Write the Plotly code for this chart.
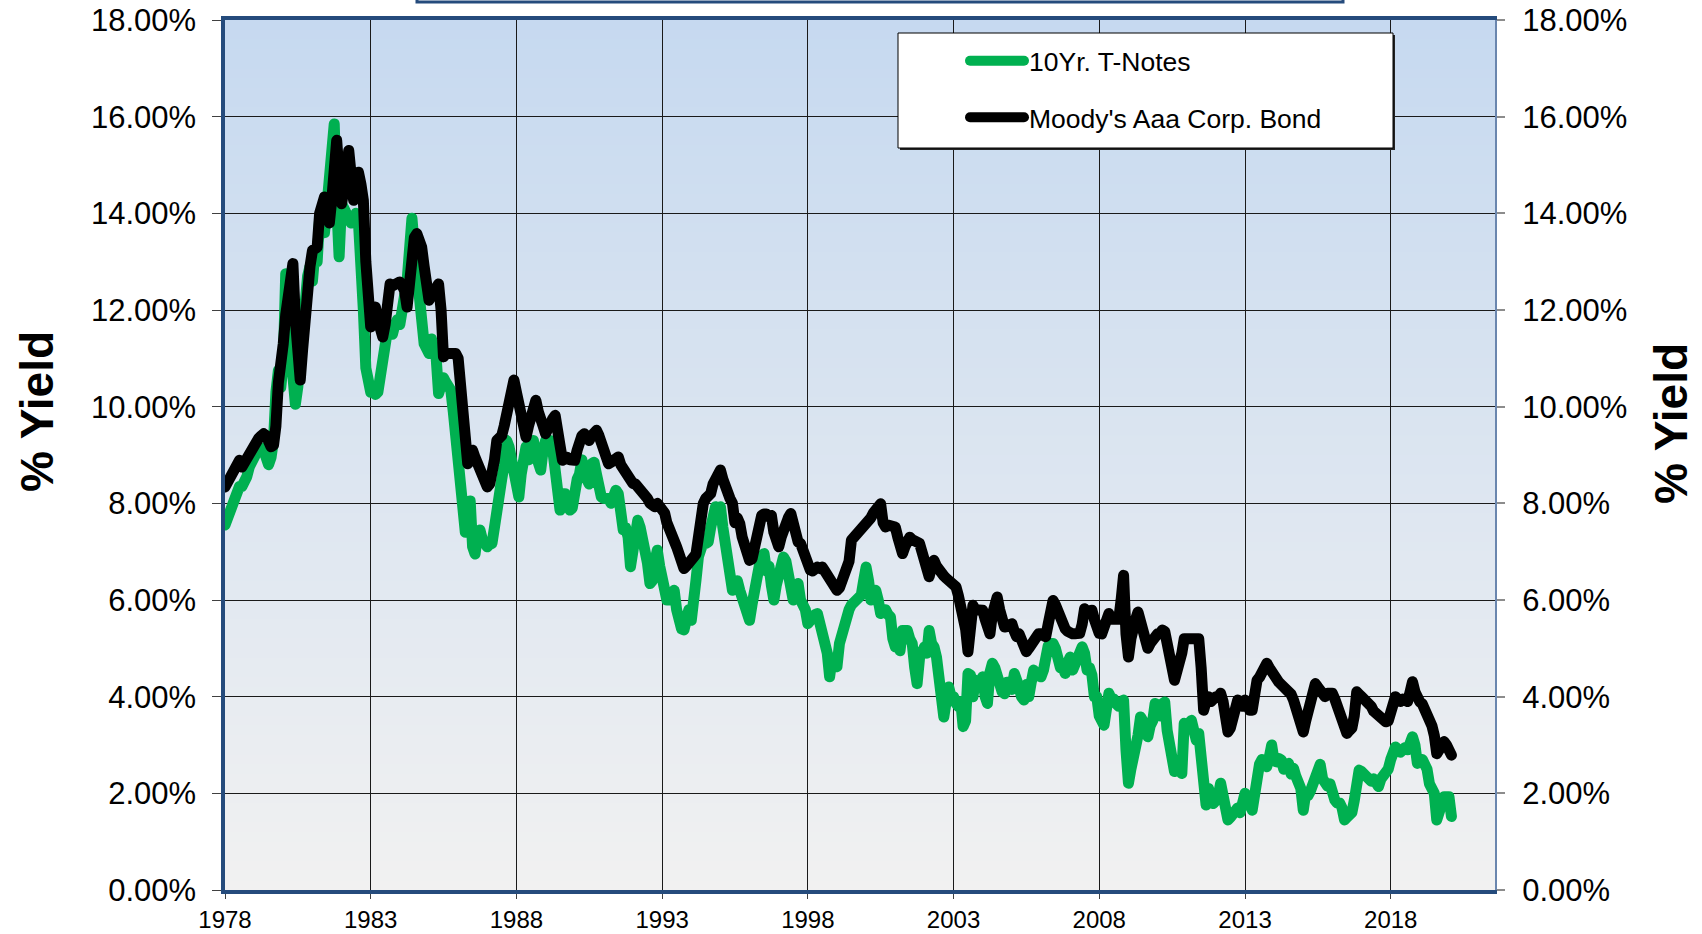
import pandas as pd
import plotly.graph_objects as go

# ---------------- data (monthly, Jan 1978 - Feb 2020), % yield ----------------
start_month = "1978-01-01"
series_names = ["10Yr. T-Notes", "Moody's Aaa Corp. Bond"]
y_tick_values = [0, 2, 4, 6, 8, 10, 12, 14, 16, 18]

t_notes_10yr = [
    7.55, 7.7, 7.85, 7.95, 8.1, 8.2, 8.35, 8.35, 8.42, 8.55, 8.75, 8.9,          # 1978
    9.0, 9.05, 9.1, 9.15, 9.1, 8.85, 8.8, 8.95, 9.3, 10.3, 10.75, 10.4,          # 1979
    10.9, 12.75, 12.6, 11.2, 10.2, 10.05, 10.4, 11.1, 11.6, 12.2, 12.7, 12.9,    # 1980
    12.6, 13.2, 13.0, 13.9, 13.9, 13.6, 14.3, 15.0, 15.3, 15.85, 14.2, 13.1,     # 1981
    14.2, 14.1, 14.0, 13.9, 13.8, 13.9, 14.0, 13.8, 13.2, 12.0, 10.8, 10.5,      # 1982
    10.3, 10.3, 10.25, 10.3, 10.6, 10.9, 11.3, 11.6, 11.5, 11.5, 11.7, 11.8,     # 1983
    11.7, 11.9, 12.3, 12.6, 13.4, 13.9, 13.3, 12.6, 12.06, 11.5, 11.3, 11.2,     # 1984
    11.1, 11.4, 11.23, 11.0, 10.27, 10.4, 10.6, 10.5, 10.4, 10.34, 9.9, 9.4,     # 1985
    9.03, 8.3, 7.5, 7.4, 7.6, 8.05, 7.1, 6.95, 7.35, 7.45, 7.25, 7.15,           # 1986
    7.1, 7.15, 7.17, 7.5, 8.0, 8.27, 8.5, 8.8, 9.3, 9.17, 8.9, 8.8,              # 1987
    8.4, 8.13, 8.6, 9.0, 9.17, 8.9, 9.1, 9.3, 9.0, 8.8, 8.69, 9.1,               # 1988
    9.3, 9.2, 9.3, 9.1, 8.7, 8.1, 7.86, 8.2, 8.2, 7.95, 7.86, 7.9,               # 1989
    8.3, 8.5, 8.6, 8.9, 8.6, 8.4, 8.4, 8.82, 8.85, 8.6, 8.2, 8.13,               # 1990
    8.1, 8.1, 8.1, 8.0, 8.1, 8.27, 8.2, 7.8, 7.45, 7.5, 7.3, 6.69,               # 1991
    7.1, 7.3, 7.65, 7.5, 7.3, 7.1, 6.76, 6.34, 6.4, 6.8, 7.03, 6.7,              # 1992
    6.4, 6.14, 6.0, 6.0, 6.1, 6.2, 5.8, 5.51, 5.4, 5.38, 5.6, 5.8,               # 1993
    5.58, 5.9, 6.41, 6.9, 7.1, 7.2, 7.17, 7.2, 7.5, 7.7, 7.93, 7.8,              # 1994
    7.93, 7.5, 7.17, 7.0, 6.5, 6.2, 6.3, 6.4, 6.2, 6.0, 5.8, 5.6,                # 1995
    5.58, 5.9, 6.3, 6.5, 6.7, 6.9, 6.96, 6.6, 6.7, 6.3, 6.0, 6.3,                # 1996
    6.5, 6.6, 6.89, 6.8, 6.6, 6.4, 6.0, 6.3, 6.34, 6.0, 5.9, 5.8,                # 1997
    5.51, 5.6, 5.65, 5.7, 5.72, 5.5, 5.5, 5.3, 4.9, 4.41, 4.8, 4.65,             # 1998
    4.62, 5.1, 5.3, 5.3, 5.65, 5.8, 5.9, 5.95, 5.93, 6.0, 6.1, 6.4,              # 1999
    6.68, 6.4, 6.0, 6.1, 6.2, 6.0, 5.72, 5.8, 5.8, 5.7, 5.65, 5.2,               # 2000
    5.03, 5.1, 4.95, 5.37, 5.4, 5.37, 5.2, 5.1, 4.6, 4.27, 4.8, 5.03,            # 2001
    5.03, 4.9, 5.37, 5.1, 5.03, 4.82, 4.5, 4.1, 3.58, 3.9, 4.2, 4.0,             # 2002
    4.0, 3.86, 3.8, 3.9, 3.38, 3.5, 4.48, 4.45, 4.0, 4.34, 4.3, 4.3,             # 2003
    4.41, 4.0, 3.86, 4.5, 4.69, 4.6, 4.45, 4.13, 4.1, 4.06, 4.3, 4.2,            # 2004
    4.15, 4.48, 4.4, 4.2, 4.0, 3.93, 4.25, 4.0, 4.3, 4.55, 4.45, 4.4,            # 2005
    4.41, 4.55, 4.85, 5.05, 5.1, 5.1, 5.0, 4.75, 4.6, 4.6, 4.48, 4.7,            # 2006
    4.82, 4.55, 4.65, 4.7, 4.9, 5.03, 4.9, 4.55, 4.6, 4.45, 4.0, 4.0,            # 2007
    3.6, 3.45, 3.41, 3.75, 4.07, 3.95, 3.95, 3.85, 3.8, 3.85, 3.93, 2.9,         # 2008
    2.21, 2.5, 2.69, 2.9, 3.2, 3.58, 3.5, 3.3, 3.17, 3.4, 3.5, 3.86,             # 2009
    3.6, 3.6, 3.85, 3.89, 3.3, 2.95, 2.9, 2.45, 2.5, 2.6, 2.41, 3.45,            # 2010
    3.4, 3.45, 3.51, 3.3, 3.1, 3.24, 2.8, 2.2, 1.76, 2.1, 2.0, 1.79,             # 2011
    1.85, 1.95, 2.21, 1.9, 1.6, 1.45, 1.5, 1.58, 1.62, 1.7, 1.6, 1.75,           # 2012
    2.0, 1.9, 1.85, 1.65, 2.1, 2.5, 2.6, 2.7, 2.6, 2.55, 2.75, 3.0,              # 2013
    2.67, 2.65, 2.72, 2.69, 2.5, 2.55, 2.62, 2.4, 2.52, 2.35, 2.2, 2.1,          # 2014
    1.65, 2.0, 1.95, 2.05, 2.2, 2.4, 2.5, 2.6, 2.3, 2.2, 2.15, 2.2,              # 2015
    1.95, 1.86, 1.8, 1.8, 1.7, 1.45, 1.5, 1.55, 1.6, 1.85, 2.3, 2.48,            # 2016
    2.45, 2.4, 2.35, 2.27, 2.25, 2.3, 2.25, 2.14, 2.3, 2.38, 2.4, 2.5,           # 2017
    2.7, 2.85, 2.96, 2.9, 2.85, 2.9, 2.95, 2.9, 3.05, 3.17, 3.0, 2.62,           # 2018
    2.65, 2.7, 2.62, 2.5, 2.2, 2.0, 2.0, 1.45, 1.7, 1.8, 1.93, 1.93,             # 2019
    1.93, 1.52,                                                                  # 2020
]

moodys_aaa = [
    8.34, 8.45, 8.5, 8.6, 8.7, 8.85, 8.89, 8.75, 8.85, 8.9, 9.05, 9.15,          # 1978
    9.2, 9.25, 9.35, 9.4, 9.44, 9.4, 9.25, 9.17, 9.2, 9.6, 10.5, 10.8,           # 1979
    11.3, 11.9, 12.4, 12.7, 12.96, 11.8, 10.9, 10.55, 11.2, 11.9, 12.5, 12.9,    # 1980
    13.23, 13.25, 13.3, 14.0, 14.3, 14.34, 14.0, 13.8, 14.3, 14.9, 15.51, 14.8,  # 1981
    14.2, 14.5, 15.0, 15.3, 14.8, 14.27, 14.5, 14.85, 14.6, 14.27, 13.0, 11.65,  # 1982
    11.65, 11.8, 12.06, 11.8, 11.6, 11.44, 11.7, 12.2, 12.54, 12.5, 12.55, 12.58,  # 1983
    12.58, 12.5, 12.4, 12.06, 12.6, 13.2, 13.5, 13.58, 13.4, 13.3, 12.9, 12.5,   # 1984
    12.2, 12.3, 12.4, 12.5, 12.54, 12.0, 11.03, 11.1, 11.1, 11.1, 11.05, 11.1,   # 1985
    11.0, 10.3, 9.5, 9.0, 8.82, 8.9, 9.1, 8.95, 8.82, 8.7, 8.5, 8.35,            # 1986
    8.34, 8.4, 8.6, 8.9, 9.3, 9.35, 9.4, 9.6, 9.8, 10.2, 10.4, 10.55,            # 1987
    10.3, 10.06, 9.7, 9.5, 9.37, 9.6, 9.8, 10.0, 10.13, 9.9, 9.6, 9.6,           # 1988
    9.44, 9.6, 9.7, 9.75, 9.82, 9.6, 9.2, 8.89, 8.95, 8.95, 8.9, 8.89,           # 1989
    8.89, 9.1, 9.3, 9.4, 9.44, 9.4, 9.3, 9.4, 9.5, 9.51, 9.4, 9.2,               # 1990
    9.1, 8.95, 8.82, 8.85, 8.9, 8.95, 8.96, 8.8, 8.7, 8.6, 8.5, 8.41,            # 1991
    8.41, 8.4, 8.35, 8.3, 8.27, 8.2, 8.1, 8.0, 7.95, 7.93, 8.0, 7.93,            # 1992
    7.93, 7.8, 7.6, 7.5, 7.38, 7.3, 7.1, 6.95, 6.8, 6.65, 6.7, 6.8,              # 1993
    6.85, 6.89, 6.95, 7.5, 7.93, 8.0, 8.1, 8.13, 8.2, 8.4, 8.55, 8.6,            # 1994
    8.69, 8.5, 8.3, 8.2, 8.1, 8.0, 7.6, 7.7, 7.58, 7.3, 7.1, 6.9,                # 1995
    6.82, 6.85, 7.1, 7.4, 7.6, 7.75, 7.78, 7.78, 7.72, 7.75, 7.4, 7.1,           # 1996
    7.1, 7.3, 7.5, 7.6, 7.7, 7.79, 7.5, 7.3, 7.2, 7.17, 7.0, 6.8,                # 1997
    6.7, 6.62, 6.6, 6.65, 6.68, 6.65, 6.68, 6.6, 6.5, 6.4, 6.4, 6.3,             # 1998
    6.2, 6.25, 6.4, 6.5, 6.62, 6.8, 7.24, 7.3, 7.35, 7.4, 7.45, 7.5,             # 1999
    7.51, 7.6, 7.7, 7.8, 7.85, 7.9, 7.99, 7.6, 7.51, 7.55, 7.55, 7.51,           # 2000
    7.51, 7.3, 7.1, 6.96, 7.1, 7.2, 7.3, 7.25, 7.2, 7.15, 7.17, 7.0,             # 2001
    6.8, 6.6, 6.48, 6.7, 6.82, 6.7, 6.6, 6.55, 6.5, 6.45, 6.4, 6.35,             # 2002
    6.3, 6.27, 6.1, 5.93, 5.7, 5.4, 4.93, 5.5, 5.89, 5.8, 5.8, 5.75,             # 2003
    5.79, 5.6, 5.4, 5.3, 5.7, 5.9, 6.06, 5.8, 5.6, 5.44, 5.45, 5.5,              # 2004
    5.51, 5.35, 5.24, 5.3, 5.2, 5.05, 4.93, 5.0, 5.1, 5.2, 5.3, 5.3,             # 2005
    5.3, 5.24, 5.24, 5.5, 5.8, 5.99, 5.9, 5.75, 5.65, 5.55, 5.4, 5.35,           # 2006
    5.3, 5.3, 5.3, 5.3, 5.31, 5.5, 5.82, 5.75, 5.8, 5.79, 5.6, 5.4,              # 2007
    5.31, 5.3, 5.5, 5.65, 5.72, 5.6, 5.6, 5.58, 5.6, 6.0, 6.51, 5.3,             # 2008
    4.82, 5.2, 5.5, 5.6, 5.75, 5.5, 5.3, 5.1, 5.0, 5.1, 5.2, 5.31,               # 2009
    5.3, 5.3, 5.38, 5.35, 5.0, 4.8, 4.6, 4.34, 4.5, 4.7, 4.9, 5.2,               # 2010
    5.2, 5.2, 5.2, 5.2, 5.2, 5.2, 4.6, 3.72, 3.9, 4.0, 3.9, 4.0,                 # 2011
    4.0, 4.0, 4.07, 3.9, 3.5, 3.27, 3.35, 3.5, 3.7, 3.93, 3.9, 3.8,              # 2012
    3.93, 3.8, 3.72, 3.72, 4.1, 4.34, 4.4, 4.5, 4.6, 4.69, 4.6, 4.5,             # 2013
    4.4, 4.34, 4.3, 4.25, 4.2, 4.2, 4.15, 4.05, 3.93, 3.8, 3.6, 3.4,             # 2014
    3.27, 3.5, 3.7, 3.8, 4.1, 4.27, 4.2, 4.1, 4.0, 4.0, 4.07, 4.07,              # 2015
    4.07, 3.95, 3.8, 3.7, 3.55, 3.31, 3.24, 3.3, 3.35, 3.6, 4.1, 4.05,           # 2016
    4.0, 3.96, 3.9, 3.85, 3.8, 3.7, 3.65, 3.6, 3.55, 3.5, 3.48, 3.5,             # 2017
    3.7, 3.9, 4.0, 3.95, 3.9, 3.95, 3.89, 3.9, 4.1, 4.31, 4.1, 3.89,             # 2018
    3.89, 3.85, 3.75, 3.7, 3.58, 3.4, 3.2, 2.82, 2.9, 3.0, 3.07, 3.0,            # 2019
    2.9, 2.79,                                                                   # 2020
]

months = pd.date_range(start_month, periods=len(t_notes_10yr), freq="MS")

# ---------------- styling ----------------
FONT = "Liberation Sans, Arial, Helvetica, sans-serif"
W, H = 1702, 934
ML, MR, MT, MB = 225, 207, 20, 44
PW, PH = W - ML - MR, H - MT - MB
NAVY = "#254B7C"
LINE_W = 11


def px_x(xpix):
    return (xpix - ML) / PW


def px_y(ypix):
    return (H - MB - ypix) / PH


fig = go.Figure()
fig.add_trace(go.Scatter(
    x=months, y=t_notes_10yr, name=series_names[0], mode="lines",
    line=dict(color="#00B050", width=LINE_W), legendgroup="g1", yaxis="y",
))
fig.add_trace(go.Scatter(
    x=months, y=moodys_aaa, name=series_names[1], mode="lines",
    line=dict(color="#000000", width=LINE_W), legendgroup="g2", yaxis="y2",
))

# gradient plot background (light blue at top -> light grey at bottom)
shapes = []
n_bands = 90
top_rgb = (198, 217, 240)
bot_rgb = (241, 241, 241)
for i in range(n_bands):
    f = (i + 0.5) / n_bands
    c = tuple(round(bot_rgb[k] + (top_rgb[k] - bot_rgb[k]) * f) for k in range(3))
    shapes.append(dict(
        type="rect", xref="paper", yref="paper", x0=0, x1=1,
        y0=i / n_bands, y1=(i + 1) / n_bands + 0.002,
        fillcolor="rgb(%d,%d,%d)" % c, line=dict(width=0), layer="below",
    ))

# title box (cut off at the top of the page)
shapes.append(dict(
    type="rect", xref="paper", yref="paper",
    x0=px_x(417), x1=px_x(1343), y0=px_y(2), y1=px_y(-40),
    fillcolor="white", line=dict(color=NAVY, width=3), layer="above",
))
# legend box with shadow
shapes.append(dict(
    type="rect", xref="paper", yref="paper",
    x0=px_x(900), x1=px_x(1395), y0=px_y(150), y1=px_y(35),
    fillcolor="#222222", line=dict(width=0), layer="above",
))
shapes.append(dict(
    type="rect", xref="paper", yref="paper",
    x0=px_x(898), x1=px_x(1393), y0=px_y(148), y1=px_y(33),
    fillcolor="white", line=dict(color="#000000", width=1), layer="above",
))

tick_text = ["%.2f%%" % v for v in y_tick_values]

fig.update_layout(
    width=W, height=H,
    margin=dict(l=ML, r=MR, t=MT, b=MB, autoexpand=False),
    paper_bgcolor="white",
    plot_bgcolor="#DCE4EE",
    font=dict(family=FONT, color="black"),
    shapes=shapes,
    showlegend=True,
    legend=dict(
        x=px_x(965), y=px_y(37), xanchor="left", yanchor="top",
        bgcolor="rgba(0,0,0,0)", borderwidth=0,
        font=dict(family=FONT, size=26.5, color="black"),
        itemwidth=54, tracegroupgap=19, traceorder="grouped",
    ),
    xaxis=dict(
        type="date", automargin=False,
        range=["1978-01-01", "2021-07-31"],
        tick0="1978-01-01", dtick="M60", tickformat="%Y",
        ticks="outside", ticklen=5, tickcolor="#404040", tickwidth=1,
        tickfont=dict(family=FONT, size=24, color="black"),
        showgrid=True, gridcolor="#1a1a1a", gridwidth=1,
        showline=True, linecolor=NAVY, linewidth=3.5, mirror=True,
        zeroline=False,
    ),
    yaxis=dict(
        range=[0, 18], tickvals=y_tick_values, ticktext=tick_text,
        automargin=False,
        ticks="outside", ticklen=9, tickcolor="#404040", tickwidth=1,
        ticklabelstandoff=10,
        tickfont=dict(family=FONT, size=31, color="black"),
        showgrid=True, gridcolor="#1a1a1a", gridwidth=1,
        showline=True, linecolor=NAVY, linewidth=3.5,
        zeroline=False,
    ),
    yaxis2=dict(
        range=[0, 18], tickvals=y_tick_values, ticktext=tick_text,
        automargin=False,
        overlaying="y", side="right",
        ticks="outside", ticklen=8, tickcolor="#8C8C8C", tickwidth=2,
        ticklabelstandoff=11,
        tickfont=dict(family=FONT, size=31, color="black"),
        showgrid=False, showline=True, linecolor="#6A86AE", linewidth=2,
        zeroline=False,
    ),
    annotations=[
        dict(text="<b>% Yield</b>", xref="paper", yref="paper",
             x=px_x(37), y=px_y(412), textangle=-90, showarrow=False,
             font=dict(family=FONT, size=46, color="black"),
             xanchor="center", yanchor="middle"),
        dict(text="<b>% Yield</b>", xref="paper", yref="paper",
             x=px_x(1671), y=px_y(424), textangle=-90, showarrow=False,
             font=dict(family=FONT, size=46, color="black"),
             xanchor="center", yanchor="middle"),
    ],
)

post_js = (
    "document.body.style.margin='0px';"
    "document.querySelectorAll('path.js-line').forEach(function(p){"
    "p.style.strokeLinejoin='round';p.style.strokeLinecap='round';});"
)

fig.write_html(
    "out.html",
    config={"displayModeBar": False},
    post_script=post_js,
)
